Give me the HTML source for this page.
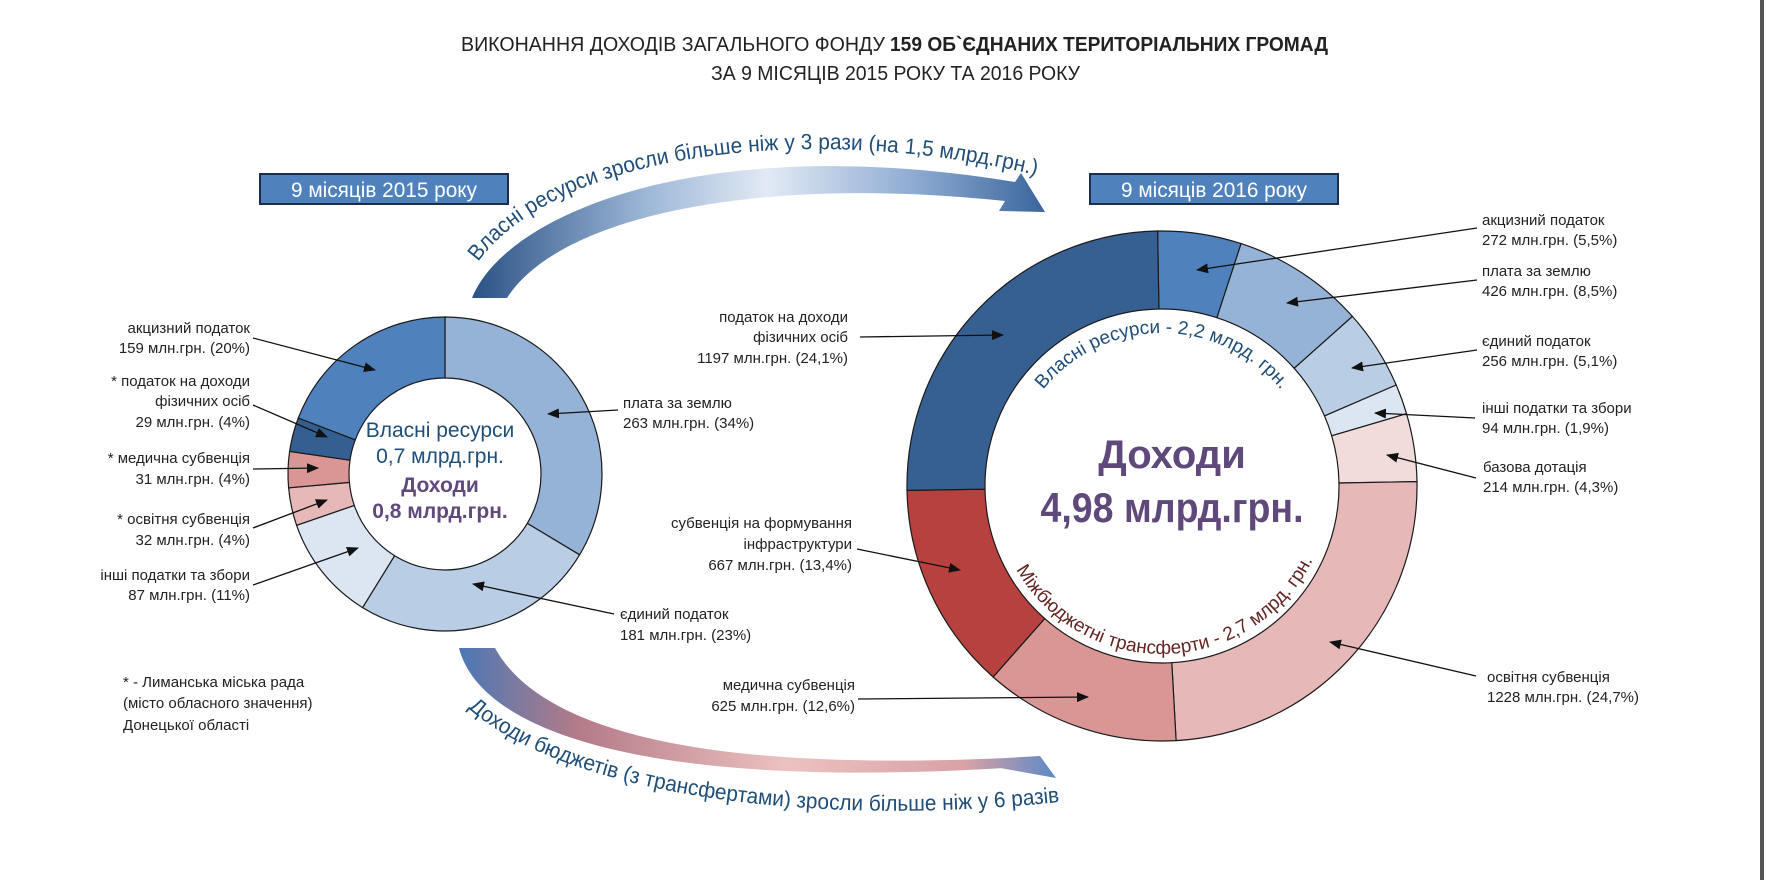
<!DOCTYPE html>
<html><head><meta charset="utf-8"><style>
html,body{margin:0;padding:0;background:#fff;}
svg{display:block;font-family:"Liberation Sans",sans-serif;}
.l{font-size:15px;fill:#222;}
</style></head><body>
<svg width="1767" height="880" viewBox="0 0 1767 880" xmlns="http://www.w3.org/2000/svg">
<defs>
<marker id="ah" markerWidth="12" markerHeight="10" refX="11" refY="5" orient="auto" markerUnits="userSpaceOnUse">
<path d="M0,0 L12,5 L0,10 Z" fill="#111"/></marker>
<linearGradient id="g1" x1="472" y1="0" x2="1062" y2="0" gradientUnits="userSpaceOnUse">
<stop offset="0" stop-color="#2b5285"/><stop offset="0.3" stop-color="#9fb8d8"/><stop offset="0.5" stop-color="#e2eaf4"/><stop offset="0.75" stop-color="#8eabd2"/><stop offset="1" stop-color="#2f5d95"/></linearGradient>
<linearGradient id="g2" x1="459" y1="0" x2="1056" y2="0" gradientUnits="userSpaceOnUse">
<stop offset="0" stop-color="#4a78b5"/><stop offset="0.2" stop-color="#b47b88"/><stop offset="0.55" stop-color="#ecc2c0"/><stop offset="0.85" stop-color="#d7a1a6"/><stop offset="1" stop-color="#5c89c6"/></linearGradient>
<path id="tp1" d="M478,262 C560,150 820,120 1048,178"/>
<path id="tp2" d="M468,708 C560,790 800,832 1078,800"/>
<path id="tp3" d="M1009,486 A153,153 0 0 1 1315,486"/>
<path id="tp4" d="M994,486 A168,168 0 0 0 1330,486"/>
</defs>

<!-- title -->
<text x="461" y="51" font-size="20" fill="#222" textLength="424" lengthAdjust="spacingAndGlyphs">ВИКОНАННЯ ДОХОДІВ ЗАГАЛЬНОГО ФОНДУ</text>
<text x="890" y="51" font-size="20" font-weight="bold" fill="#222" textLength="438" lengthAdjust="spacingAndGlyphs">159 ОБ`ЄДНАНИХ ТЕРИТОРІАЛЬНИХ ГРОМАД</text>
<text x="711" y="80" font-size="20" fill="#222" textLength="369" lengthAdjust="spacingAndGlyphs">ЗА 9 МІСЯЦІВ 2015 РОКУ ТА 2016 РОКУ</text>

<!-- boxes -->
<rect x="260" y="174" width="248" height="30" fill="#4f81bd" stroke="#1c2f4a" stroke-width="2"/>
<text x="384" y="197" font-size="21" fill="#fff" text-anchor="middle" textLength="186" lengthAdjust="spacingAndGlyphs">9 місяців 2015 року</text>
<rect x="1090" y="174" width="248" height="30" fill="#4f81bd" stroke="#1c2f4a" stroke-width="2"/>
<text x="1214" y="197" font-size="21" fill="#fff" text-anchor="middle" textLength="186" lengthAdjust="spacingAndGlyphs">9 місяців 2016 року</text>

<!-- top arrow -->
<path d="M472,298 C505,215 700,130 1015,182 L1021,173 L1045,212 L999,211 L1005,201 C760,175 560,215 507,298 Z" fill="url(#g1)"/>
<text font-size="22" fill="#1f4e79"><textPath href="#tp1" textLength="590" lengthAdjust="spacingAndGlyphs">Власні ресурси зросли більше ніж у 3 рази (на 1,5 млрд.грн.)</textPath></text>

<!-- bottom arrow -->
<path d="M459,648 C480,730 640,790 1004,768 L1000,768 L1056,778 L1040,756 L1006,758 C700,772 540,730 495,648 Z" fill="url(#g2)"/>
<text font-size="22" fill="#1f4e79"><textPath href="#tp2" textLength="612" lengthAdjust="spacingAndGlyphs">Доходи бюджетів (з трансфертами) зросли більше ніж у 6 разів</textPath></text>

<!-- left donut -->
<g stroke="#1a1a1a" stroke-width="1.2">
<path fill="#95b3d7" d="M445,317 A157,157 0 0 1 579.6,554.8 L527.3,523.4 A96,96 0 0 0 445,378 Z"/>
<path fill="#b9cde5" d="M579.6,554.8 A157,157 0 0 1 362.6,607.6 L394.6,555.7 A96,96 0 0 0 527.3,523.4 Z"/>
<path fill="#dce6f2" d="M362.6,607.6 A157,157 0 0 1 296.6,525.3 L354.3,505.4 A96,96 0 0 0 394.6,555.7 Z"/>
<path fill="#e6b9b8" d="M296.6,525.3 A157,157 0 0 1 288.6,487.8 L349.4,482.4 A96,96 0 0 0 354.3,505.4 Z"/>
<path fill="#d99694" d="M288.6,487.8 A157,157 0 0 1 289.6,451.4 L350,460.2 A96,96 0 0 0 349.4,482.4 Z"/>
<path fill="#365f91" d="M289.6,451.4 A157,157 0 0 1 298.3,418 L355.3,439.8 A96,96 0 0 0 350,460.2 Z"/>
<path fill="#4f81bd" d="M298.3,418 A157,157 0 0 1 445,317 L445,378 A96,96 0 0 0 355.3,439.8 Z"/>
</g>

<!-- right donut -->
<g stroke="#1a1a1a" stroke-width="1.2">
<path fill="#4f81bd" d="M1157.6,231 A255,255 0 0 1 1241.1,243.6 L1216.9,317.7 A177,177 0 0 0 1158.9,309 Z"/>
<path fill="#95b3d7" d="M1241.1,243.6 A255,255 0 0 1 1352.4,316.4 L1294.2,368.3 A177,177 0 0 0 1216.9,317.7 Z"/>
<path fill="#b9cde5" d="M1352.4,316.4 A255,255 0 0 1 1396.2,385 L1324.5,415.9 A177,177 0 0 0 1294.2,368.3 Z"/>
<path fill="#dce6f2" d="M1396.2,385 A255,255 0 0 1 1406.5,413.7 L1331.7,435.8 A177,177 0 0 0 1324.5,415.9 Z"/>
<path fill="#f2dcdb" d="M1406.5,413.7 A255,255 0 0 1 1417,481.6 L1339,483 A177,177 0 0 0 1331.7,435.8 Z"/>
<path fill="#e6b9b8" d="M1417,481.6 A255,255 0 0 1 1176.1,740.6 L1171.8,662.7 A177,177 0 0 0 1339,483 Z"/>
<path fill="#d99694" d="M1176.1,740.6 A255,255 0 0 1 993.1,677 L1044.7,618.6 A177,177 0 0 0 1171.8,662.7 Z"/>
<path fill="#b7413e" d="M993.1,677 A255,255 0 0 1 907,490.4 L985,489.1 A177,177 0 0 0 1044.7,618.6 Z"/>
<path fill="#376092" d="M907,490.4 A255,255 0 0 1 1157.6,231 L1158.9,309 A177,177 0 0 0 985,489.1 Z"/>
</g>

<!-- left donut center text -->
<text x="440" y="437" font-size="21" fill="#1f4e79" text-anchor="middle">Власні ресурси</text>
<text x="440" y="463" font-size="21" fill="#1f4e79" text-anchor="middle">0,7 млрд.грн.</text>
<text x="440" y="492" font-size="21" font-weight="bold" fill="#604a7b" text-anchor="middle">Доходи</text>
<text x="440" y="518" font-size="21" font-weight="bold" fill="#604a7b" text-anchor="middle">0,8 млрд.грн.</text>

<!-- right donut center text -->
<text x="1172" y="468" font-size="40" font-weight="bold" fill="#5f497a" text-anchor="middle">Доходи</text>
<text x="1172" y="522" font-size="42" font-weight="bold" fill="#5f497a" text-anchor="middle" textLength="263" lengthAdjust="spacingAndGlyphs">4,98 млрд.грн.</text>
<text font-size="19" fill="#1f4e79"><textPath href="#tp3" startOffset="50%" text-anchor="middle">Власні ресурси - 2,2 млрд. грн.</textPath></text>
<text font-size="19" fill="#632523"><textPath href="#tp4" startOffset="51%" text-anchor="middle">Міжбюджетні трансферти - 2,7 млрд. грн.</textPath></text>

<!-- left labels -->
<g class="l" text-anchor="end">
<text x="250" y="333">акцизний податок</text><text x="250" y="353">159 млн.грн. (20%)</text>
<text x="250" y="386">* податок на доходи</text><text x="250" y="406">фізичних осіб</text><text x="250" y="427">29 млн.грн. (4%)</text>
<text x="250" y="463">* медична субвенція</text><text x="250" y="484">31 млн.грн. (4%)</text>
<text x="250" y="524">* освітня субвенція</text><text x="250" y="545">32 млн.грн. (4%)</text>
<text x="250" y="580">інші податки та збори</text><text x="250" y="600">87 млн.грн. (11%)</text>
</g>
<g class="l">
<text x="123" y="687">* - Лиманська міська рада</text>
<text x="123" y="708">(місто обласного значення)</text>
<text x="123" y="730">Донецької області</text>
<text x="623" y="408">плата за землю</text><text x="623" y="428">263 млн.грн. (34%)</text>
<text x="620" y="619">єдиний податок</text><text x="620" y="640">181 млн.грн. (23%)</text>
</g>
<g class="l" text-anchor="end">
<text x="848" y="322">податок на доходи</text><text x="848" y="342">фізичних осіб</text><text x="848" y="363">1197 млн.грн. (24,1%)</text>
<text x="852" y="528">субвенція на формування</text><text x="852" y="549">інфраструктури</text><text x="852" y="570">667 млн.грн. (13,4%)</text>
<text x="855" y="690">медична субвенція</text><text x="855" y="711">625 млн.грн. (12,6%)</text>
</g>
<g class="l">
<text x="1482" y="225">акцизний податок</text><text x="1482" y="245">272 млн.грн. (5,5%)</text>
<text x="1482" y="276">плата за землю</text><text x="1482" y="296">426 млн.грн. (8,5%)</text>
<text x="1482" y="346">єдиний податок</text><text x="1482" y="366">256 млн.грн. (5,1%)</text>
<text x="1482" y="413">інші податки та збори</text><text x="1482" y="433">94 млн.грн. (1,9%)</text>
<text x="1483" y="472">базова дотація</text><text x="1483" y="492">214 млн.грн. (4,3%)</text>
<text x="1487" y="682">освітня субвенція</text><text x="1487" y="702">1228 млн.грн. (24,7%)</text>
</g>

<!-- leaders -->
<g stroke="#111" stroke-width="1.3" fill="none" marker-end="url(#ah)">
<line x1="253" y1="338" x2="375" y2="370"/>
<line x1="253" y1="405" x2="327" y2="437"/>
<line x1="253" y1="469" x2="318" y2="468"/>
<line x1="253" y1="528" x2="327" y2="500"/>
<line x1="253" y1="585" x2="358" y2="548"/>
<line x1="618" y1="410" x2="548" y2="414"/>
<line x1="614" y1="614" x2="473" y2="584"/>
<line x1="860" y1="337" x2="1003" y2="335"/>
<line x1="857" y1="549" x2="960" y2="570"/>
<line x1="858" y1="699" x2="1088" y2="697"/>
<line x1="1477" y1="228" x2="1197" y2="270"/>
<line x1="1477" y1="280" x2="1287" y2="303"/>
<line x1="1477" y1="350" x2="1352" y2="368"/>
<line x1="1475" y1="418" x2="1375" y2="413"/>
<line x1="1476" y1="478" x2="1387" y2="455"/>
<line x1="1476" y1="676" x2="1330" y2="642"/>
</g>

<!-- right border -->
<rect x="1760" y="0" width="4" height="880" fill="#555"/>
</svg>
</body></html>
